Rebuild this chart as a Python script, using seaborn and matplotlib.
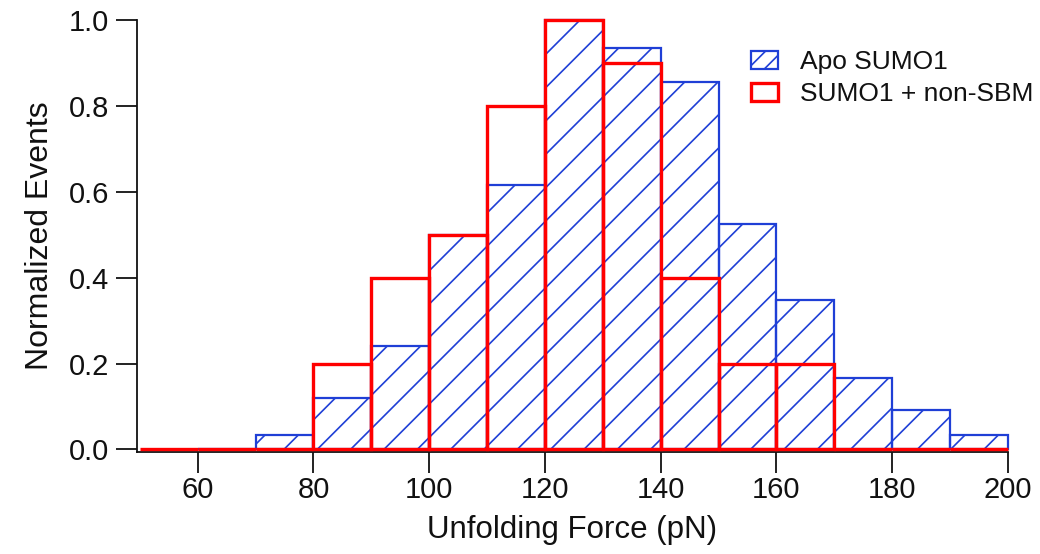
import numpy as np
import pandas as pd
import matplotlib
matplotlib.use("Agg")
import matplotlib.pyplot as plt
from matplotlib.patches import Patch
import seaborn as sns

# ---- data ----
apo_edges = [60, 70, 80, 90, 100, 110, 120, 130, 140, 150, 160, 170, 180, 190, 200]
apo_values = [0.0, 0.033, 0.121, 0.242, 0.50, 0.616, 1.0, 0.935, 0.855, 0.525, 0.347, 0.167, 0.093, 0.033]
sbm_edges = [50, 60, 70, 80, 90, 100, 110, 120, 130, 140, 150, 160, 170, 180, 190, 200]
sbm_values = [0.0, 0.0, 0.0, 0.2, 0.4, 0.5, 0.8, 1.0, 0.9, 0.4, 0.2, 0.2, 0.0, 0.0, 0.0]
x_ticks = [60, 80, 100, 120, 140, 160, 180, 200]
y_ticks = [0.0, 0.2, 0.4, 0.6, 0.8, 1.0]
labels = ["Apo SUMO1", "SUMO1 + non-SBM"]

BLUE = "#1f3fd6"
RED = "#ff0000"

sns.set_style("ticks")
plt.rcParams["font.family"] = ["Liberation Sans", "DejaVu Sans"]
plt.rcParams["hatch.linewidth"] = 1.2

fig = plt.figure(figsize=(10.40, 5.54), dpi=100)
ax = fig.add_axes([0.1317, 0.184, 0.8375, 0.780])

apo_centers = [(a + b) / 2 for a, b in zip(apo_edges[:-1], apo_edges[1:])]
sbm_centers = [(a + b) / 2 for a, b in zip(sbm_edges[:-1], sbm_edges[1:])]

df_apo = pd.DataFrame({"force": apo_centers, "w": apo_values})
df_sbm = pd.DataFrame({"force": sbm_centers, "w": sbm_values})

sns.histplot(data=df_apo, x="force", weights="w", bins=apo_edges, element="bars",
             fill=True, ax=ax)
n_apo = len(ax.patches)
for p in ax.patches[:n_apo]:
    p.set_facecolor("none")
    p.set_edgecolor(BLUE)
    p.set_hatch("/")
    p.set_linewidth(1.6)
    p.set_alpha(None)
    p.set_clip_on(False)

sns.histplot(data=df_sbm, x="force", weights="w", bins=sbm_edges, element="bars",
             fill=False, ax=ax)
for p in ax.patches[n_apo:]:
    p.set_facecolor("none")
    p.set_edgecolor(RED)
    p.set_linewidth(2.4)
    p.set_clip_on(False)
    p.set_zorder(3)

ax.set_xlim(49.5, 200)
ax.set_ylim(-0.006, 1.0)
ax.set_xticks(x_ticks)
ax.set_yticks(y_ticks)
ax.set_yticklabels([f"{v:.1f}" for v in y_ticks])
ax.tick_params(axis="both", direction="out", length=15, width=1.3, labelsize=21,
               colors="#111111", pad=5)
ax.tick_params(axis="x", pad=2)
for s in ["top", "right"]:
    ax.spines[s].set_visible(False)
for s in ["left", "bottom"]:
    ax.spines[s].set_linewidth(1.3)
    ax.spines[s].set_color("#111111")

ax.set_xlabel("Unfolding Force (pN)", fontsize=22.5, color="#111111", labelpad=8)
ax.set_ylabel("Normalized Events", fontsize=23, color="#111111", labelpad=10)

handles = [Patch(facecolor="white", edgecolor=BLUE, hatch="//", linewidth=1.6),
           Patch(facecolor="white", edgecolor=RED, linewidth=2.4)]
leg = ax.legend(handles, labels, loc="upper left", bbox_to_anchor=(0.678, 0.985),
                frameon=False, fontsize=19, handlelength=1.0, handleheight=0.65,
                handletextpad=0.85, labelspacing=0.3)
for t in leg.get_texts():
    t.set_color("#111111")

fig.savefig("out.png", dpi=100)
